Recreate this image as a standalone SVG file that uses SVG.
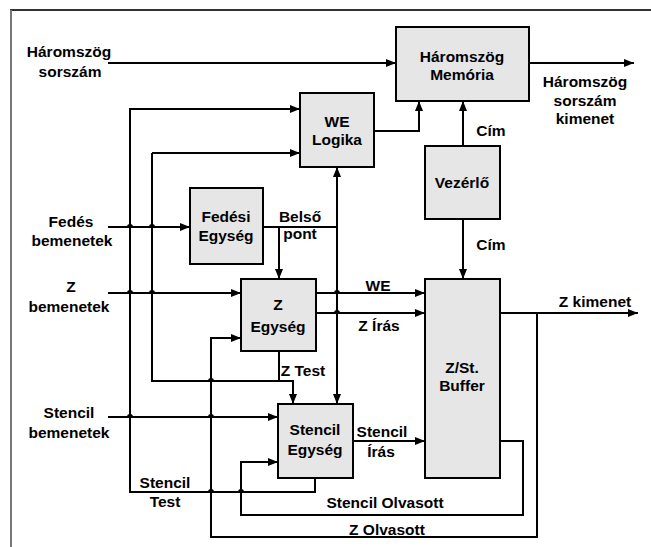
<svg xmlns="http://www.w3.org/2000/svg" width="651" height="547" viewBox="0 0 651 547">
<style>
.box{fill:#e6e6e6;stroke:#000;stroke-width:2}
.ln{fill:none;stroke:#000;stroke-width:2}
.arr{fill:none;stroke:#000;stroke-width:2;marker-end:url(#ah)}
text{font-family:"Liberation Sans",Arial,sans-serif;font-weight:bold;font-size:15.5px;fill:#000;text-anchor:middle}
</style>
<defs>
<marker id="ah" viewBox="0 0 10 8" refX="10" refY="4" markerWidth="10" markerHeight="8" markerUnits="userSpaceOnUse" orient="auto">
<path d="M0,0 L10,4 L0,8 Z" fill="#000"/>
</marker>
<marker id="ahs" viewBox="0 0 10 8" refX="0" refY="4" markerWidth="10" markerHeight="8" markerUnits="userSpaceOnUse" orient="auto">
<path d="M10,0 L0,4 L10,8 Z" fill="#000"/>
</marker>
</defs>
<rect width="651" height="547" fill="#fff"/>
<g id="frame">
<line x1="10" y1="10" x2="651" y2="10" stroke="#333" stroke-width="2"/>
<line x1="11" y1="10" x2="11" y2="547" stroke="#777" stroke-width="2"/>
</g>
<g id="connectors">
<path class="arr" d="M108,63 H396"/>
<path class="arr" d="M529,63 H634"/>
<path class="arr" d="M374,131 H419 V101"/>
<path class="arr" d="M463,146 V101"/>
<path class="arr" d="M463,219 V279"/>
<path class="arr" d="M315,478 V492 H243 a2,2 0 0 0 -4,0 H213 a2,2 0 0 0 -4,0 H130 V109 H300"/>
<path class="ln" d="M279,351 V381"/>
<path class="arr" d="M152,153 H300"/>
<path class="arr" d="M152,153 V381 H209 a2,2 0 0 1 4,0 H293 V404"/>
<path class="arr" d="M108,227 H128 a2,2 0 0 1 4,0 H150 a2,2 0 0 1 4,0 H190"/>
<path class="ln" d="M263,227 H337"/>
<path class="arr" d="M279,227 V279"/>
<path class="arr" d="M337,167 V404" marker-start="url(#ahs)"/>
<path class="arr" d="M108,293 H128 a2,2 0 0 1 4,0 H150 a2,2 0 0 1 4,0 H241"/>
<path class="arr" d="M316,293 H335 a2,2 0 0 1 4,0 H425"/>
<path class="arr" d="M316,313 H335 a2,2 0 0 1 4,0 H425"/>
<path class="arr" d="M108,417 H128 a2,2 0 0 1 4,0 H209 a2,2 0 0 1 4,0 H278"/>
<path class="arr" d="M353,441 H425"/>
<path class="arr" d="M500,313 H638"/>
<path class="arr" d="M537,313 V537 H211 V338 H241"/>
<path class="arr" d="M500,441 H523 V515 H241 V462 H278"/>
</g>
<g id="memoria">
<rect class="box" x="396" y="27" width="133" height="74"/>
<text x="462" y="62">Háromszög</text>
<text x="462" y="80">Memória</text>
</g>
<g id="welogika">
<rect class="box" x="300" y="93" width="74" height="74"/>
<text x="337" y="127">WE</text>
<text x="337" y="145">Logika</text>
</g>
<g id="vezerlo">
<rect class="box" x="425" y="146" width="75" height="73"/>
<text x="462" y="188">Vezérlő</text>
</g>
<g id="fedesi">
<rect class="box" x="190" y="188" width="73" height="76"/>
<text x="226" y="222">Fedési</text>
<text x="226" y="241">Egység</text>
</g>
<g id="zegyseg">
<rect class="box" x="241" y="279" width="75" height="72"/>
<text x="278" y="310">Z</text>
<text x="278" y="332">Egység</text>
</g>
<g id="stencilegyseg">
<rect class="box" x="278" y="404" width="75" height="74"/>
<text x="315" y="435">Stencil</text>
<text x="315" y="455">Egység</text>
</g>
<g id="buffer">
<rect class="box" x="425" y="279" width="75" height="199"/>
<text x="462" y="373">Z/St.</text>
<text x="462" y="391">Buffer</text>
</g>
<g id="labels">
<text x="69" y="57">Háromszög</text>
<text x="70" y="77">sorszám</text>
<text x="585" y="87">Háromszög</text>
<text x="585" y="106">sorszám</text>
<text x="585" y="124">kimenet</text>
<text x="491" y="136">Cím</text>
<text x="491" y="250">Cím</text>
<text x="71" y="227">Fedés</text>
<text x="72" y="246">bemenetek</text>
<text x="300" y="222">Belső</text>
<text x="300" y="239">pont</text>
<text x="71" y="292">Z</text>
<text x="69" y="312">bemenetek</text>
<text x="378" y="291">WE</text>
<text x="379" y="331">Z Írás</text>
<text x="303" y="376">Z Test</text>
<text x="595" y="307">Z kimenet</text>
<text x="69" y="418">Stencil</text>
<text x="69" y="438">bemenetek</text>
<text x="382" y="437">Stencil</text>
<text x="381" y="457">Írás</text>
<text x="165" y="488">Stencil</text>
<text x="165" y="507">Test</text>
<text x="385" y="508">Stencil Olvasott</text>
<text x="387" y="535">Z Olvasott</text>
</g>
</svg>
